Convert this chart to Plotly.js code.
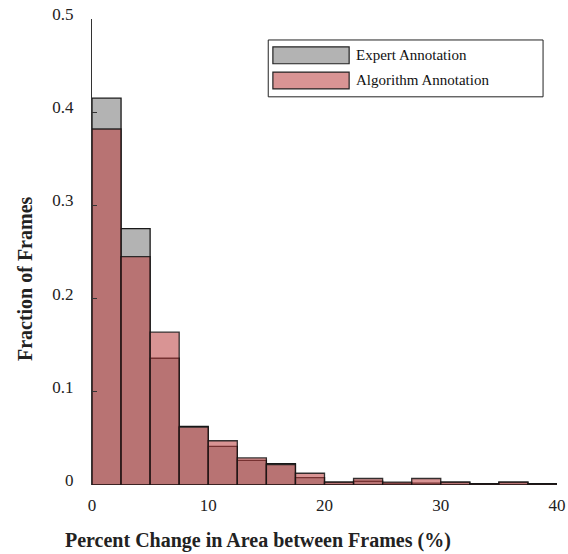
<!DOCTYPE html>
<html>
<head>
<meta charset="utf-8">
<script src="https://cdn.plot.ly/plotly-3.0.1.min.js"></script>
<style>html,body{margin:0;padding:0;background:#fff;}#chart{width:568px;height:554px;}</style>
</head>
<body>
<div id="chart"></div>
<script>
// Histogram bins (centres, %), bin width 2.5
const binCenters = [1.25, 3.75, 6.25, 8.75, 11.25, 13.75, 16.25, 18.75, 21.25, 23.75, 26.25, 28.75, 31.25, 33.75, 36.25, 38.75];
const expertFraction = [0.415, 0.275, 0.136, 0.063, 0.0415, 0.0265, 0.023, 0.008, 0.003, 0.004, 0.002, 0.002, 0.003, 0.0015, 0.003, 0.0015];
const algorithmFraction = [0.382, 0.245, 0.164, 0.062, 0.0475, 0.029, 0.022, 0.0126, 0.003, 0.007, 0.003, 0.007, 0.003, 0.0015, 0.003, 0.001];
const seriesNames = ['Expert Annotation', 'Algorithm Annotation'];
const yTickVals = [0, 0.1, 0.2, 0.3, 0.4, 0.5];
const yTickText = ['0', '0.1', '0.2', '0.3', '0.4', '0.5'];
const xTickVals = [0, 10, 20, 30, 40];

const font = 'Times New Roman';
const binWidth = binCenters[1] - binCenters[0];

const traces = [
  {type: 'bar', x: binCenters, y: expertFraction, width: binWidth, name: seriesNames[0],
   marker: {color: '#b3b3b3', line: {color: '#1a1a1a', width: 1.3}}},
  {type: 'bar', x: binCenters, y: algorithmFraction, width: binWidth, name: seriesNames[1],
   marker: {color: 'rgba(188,66,66,0.57)', line: {color: 'rgba(20,20,20,0.85)', width: 1.3}}}
];

const layout = {
  width: 568, height: 554,
  margin: {l: 92, r: 11, t: 19, b: 69},
  paper_bgcolor: '#fff', plot_bgcolor: '#fff',
  barmode: 'overlay', bargap: 0,
  showlegend: false,
  font: {family: font, size: 17, color: '#222'},
  xaxis: {range: [0, 40], tickvals: xTickVals, ticks: '', showgrid: false, zeroline: false,
          showline: false, ticklabelstandoff: 8, tickfont: {family: font, size: 17, color: '#222'}},
  yaxis: {range: [0, 0.5], tickvals: yTickVals, ticktext: yTickText, ticks: 'inside', ticklen: 5,
          tickcolor: '#333', showgrid: false, zeroline: false, showline: true, linecolor: '#333', linewidth: 1,
          ticklabelstandoff: 14, ticklabelshift: -5, tickfont: {family: font, size: 17, color: '#222'}},
  shapes: [
    {type: 'rect', xref: 'paper', yref: 'paper', x0: 0.379, x1: 0.970, y0: 0.833, y1: 0.955,
     line: {color: '#222', width: 1}, fillcolor: '#fff'},
    {type: 'rect', xref: 'paper', yref: 'paper', x0: 0.389, x1: 0.553, y0: 0.904, y1: 0.940,
     line: {color: '#222', width: 1.2}, fillcolor: '#b3b3b3'},
    {type: 'rect', xref: 'paper', yref: 'paper', x0: 0.389, x1: 0.553, y0: 0.850, y1: 0.886,
     line: {color: '#222', width: 1.2}, fillcolor: '#d99494'}
  ],
  annotations: [
    {xref: 'paper', yref: 'paper', x: 0.564, y: 0.923, text: seriesNames[0], showarrow: false,
     xanchor: 'left', yanchor: 'middle', font: {family: font, size: 15, color: '#111'}},
    {xref: 'paper', yref: 'paper', x: 0.564, y: 0.869, text: seriesNames[1], showarrow: false,
     xanchor: 'left', yanchor: 'middle', font: {family: font, size: 15, color: '#111'}},
    {xref: 'paper', yref: 'paper', x: 0.357, y: -0.120, text: '<b>Percent Change in Area between Frames (%)</b>',
     showarrow: false, xanchor: 'center', yanchor: 'middle', font: {family: font, size: 20, color: '#222'}},
    {xref: 'paper', yref: 'paper', x: -0.144, y: 0.442, text: '<b>Fraction of Frames</b>', textangle: -90,
     showarrow: false, xanchor: 'center', yanchor: 'middle', font: {family: font, size: 20, color: '#222'}}
  ]
};

Plotly.newPlot('chart', traces, layout, {staticPlot: true, displayModeBar: false});
</script>
</body>
</html>
